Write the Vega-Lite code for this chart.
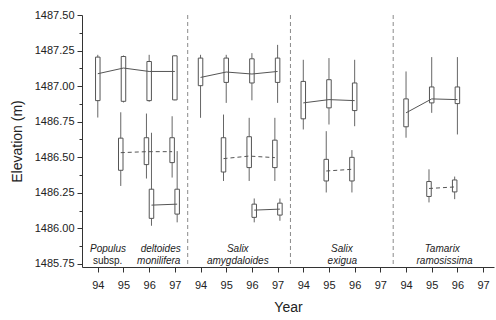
{
  "$schema": "https://vega.github.io/schema/vega-lite/v6.json",
  "width": 412,
  "height": 252,
  "autosize": {"type": "none"},
  "padding": {"left": 82, "top": 15, "right": 2, "bottom": 53},
  "background": "white",
  "config": {
    "view": {"stroke": null},
    "font": "Liberation Sans",
    "axis": {"grid": false, "domainColor": "#333", "tickColor": "#333", "labelColor": "#222", "titleColor": "#222", "labelFont": "Liberation Sans", "titleFont": "Liberation Sans", "titleFontWeight": "normal", "labelOverlap": false}
  },
  "resolve": {"axis": {"y": "independent"}},
  "datasets": {
    "boxes": [
      {"species": "Populus", "group": "upper", "year": 94, "x": 0, "lo": 1486.779, "q1": 1486.898, "med": 1487.087, "q3": 1487.204, "hi": 1487.22},
      {"species": "Populus", "group": "upper", "year": 95, "x": 1, "lo": 1486.885, "q1": 1486.893, "med": 1487.127, "q3": 1487.208, "hi": 1487.215},
      {"species": "Populus", "group": "upper", "year": 96, "x": 2, "lo": 1486.89, "q1": 1486.898, "med": 1487.103, "q3": 1487.173, "hi": 1487.22},
      {"species": "Populus", "group": "upper", "year": 97, "x": 3, "lo": 1486.9, "q1": 1486.903, "med": 1487.103, "q3": 1487.213, "hi": 1487.215},
      {"species": "Populus", "group": "middle", "year": 95, "x": 0.894, "lo": 1486.298, "q1": 1486.408, "med": 1486.532, "q3": 1486.634, "hi": 1486.816},
      {"species": "Populus", "group": "middle", "year": 96, "x": 1.894, "lo": 1486.35, "q1": 1486.448, "med": 1486.539, "q3": 1486.637, "hi": 1486.807},
      {"species": "Populus", "group": "middle", "year": 97, "x": 2.894, "lo": 1486.357, "q1": 1486.462, "med": 1486.539, "q3": 1486.637, "hi": 1486.788},
      {"species": "Populus", "group": "lower", "year": 96, "x": 2.09, "lo": 1486.018, "q1": 1486.07, "med": 1486.163, "q3": 1486.275, "hi": 1486.672},
      {"species": "Populus", "group": "lower", "year": 97, "x": 3.09, "lo": 1486.042, "q1": 1486.1, "med": 1486.17, "q3": 1486.275, "hi": 1486.543},
      {"species": "Salix amygdaloides", "group": "upper", "year": 94, "x": 4, "lo": 1486.777, "q1": 1487.003, "med": 1487.061, "q3": 1487.197, "hi": 1487.22},
      {"species": "Salix amygdaloides", "group": "upper", "year": 95, "x": 5, "lo": 1486.882, "q1": 1487.026, "med": 1487.099, "q3": 1487.197, "hi": 1487.22},
      {"species": "Salix amygdaloides", "group": "upper", "year": 96, "x": 6, "lo": 1486.9, "q1": 1487.022, "med": 1487.085, "q3": 1487.192, "hi": 1487.232},
      {"species": "Salix amygdaloides", "group": "upper", "year": 97, "x": 7, "lo": 1486.882, "q1": 1487.026, "med": 1487.103, "q3": 1487.197, "hi": 1487.29},
      {"species": "Salix amygdaloides", "group": "middle", "year": 95, "x": 4.894, "lo": 1486.333, "q1": 1486.396, "med": 1486.49, "q3": 1486.637, "hi": 1486.8},
      {"species": "Salix amygdaloides", "group": "middle", "year": 96, "x": 5.894, "lo": 1486.333, "q1": 1486.427, "med": 1486.508, "q3": 1486.644, "hi": 1486.777},
      {"species": "Salix amygdaloides", "group": "middle", "year": 97, "x": 6.894, "lo": 1486.333, "q1": 1486.427, "med": 1486.497, "q3": 1486.62, "hi": 1486.777},
      {"species": "Salix amygdaloides", "group": "lower", "year": 96, "x": 6.09, "lo": 1486.042, "q1": 1486.077, "med": 1486.128, "q3": 1486.17, "hi": 1486.21},
      {"species": "Salix amygdaloides", "group": "lower", "year": 97, "x": 7.09, "lo": 1486.053, "q1": 1486.093, "med": 1486.135, "q3": 1486.177, "hi": 1486.21},
      {"species": "Salix exigua", "group": "upper", "year": 94, "x": 8, "lo": 1486.695, "q1": 1486.77, "med": 1486.882, "q3": 1487.033, "hi": 1487.185},
      {"species": "Salix exigua", "group": "upper", "year": 95, "x": 9, "lo": 1486.73, "q1": 1486.847, "med": 1486.905, "q3": 1487.045, "hi": 1487.197},
      {"species": "Salix exigua", "group": "upper", "year": 96, "x": 10, "lo": 1486.718, "q1": 1486.828, "med": 1486.898, "q3": 1487.022, "hi": 1487.185},
      {"species": "Salix exigua", "group": "middle", "year": 95, "x": 8.894, "lo": 1486.252, "q1": 1486.333, "med": 1486.403, "q3": 1486.485, "hi": 1486.683},
      {"species": "Salix exigua", "group": "middle", "year": 96, "x": 9.894, "lo": 1486.252, "q1": 1486.333, "med": 1486.415, "q3": 1486.499, "hi": 1486.55},
      {"species": "Tamarix", "group": "upper", "year": 94, "x": 12, "lo": 1486.637, "q1": 1486.714, "med": 1486.812, "q3": 1486.91, "hi": 1487.103},
      {"species": "Tamarix", "group": "upper", "year": 95, "x": 13, "lo": 1486.812, "q1": 1486.882, "med": 1486.91, "q3": 1486.994, "hi": 1487.204},
      {"species": "Tamarix", "group": "upper", "year": 96, "x": 14, "lo": 1486.66, "q1": 1486.877, "med": 1486.905, "q3": 1486.994, "hi": 1487.204},
      {"species": "Tamarix", "group": "middle", "year": 95, "x": 12.894, "lo": 1486.182, "q1": 1486.224, "med": 1486.28, "q3": 1486.329, "hi": 1486.415},
      {"species": "Tamarix", "group": "middle", "year": 96, "x": 13.894, "lo": 1486.205, "q1": 1486.256, "med": 1486.291, "q3": 1486.34, "hi": 1486.364}
    ],
    "labels": [
      {"label": "Populus", "x": -0.304, "elev": 1485.852},
      {"label": "deltoides", "x": 3.228, "elev": 1485.852},
      {"label": "subsp.", "x": -0.19, "elev": 1485.771},
      {"label": "monilifera", "x": 3.217, "elev": 1485.771},
      {"label": "Salix", "x": 5.45, "elev": 1485.852},
      {"label": "amygdaloides", "x": 5.45, "elev": 1485.771},
      {"label": "Salix", "x": 9.5, "elev": 1485.852},
      {"label": "exigua", "x": 9.52, "elev": 1485.771},
      {"label": "Tamarix", "x": 13.41, "elev": 1485.852},
      {"label": "ramosissima", "x": 13.5, "elev": 1485.771}
    ],
    "seps": [{"boundary": 3.5}, {"boundary": 7.5}, {"boundary": 11.5}]
  },
  "layer": [
    {
      "data": {"name": "seps"},
      "mark": {"type": "rule", "color": "#8a8a8a", "strokeDash": [4, 3], "strokeWidth": 1},
      "encoding": {
        "x": {
          "field": "boundary", "type": "quantitative",
          "scale": {"domain": [-0.42, 15.23], "nice": false, "zero": false},
          "axis": {
            "values": [0, 1, 2, 3, 4, 5, 6, 7, 8, 9, 10, 11, 12, 13, 14, 15],
            "tickCount": 40,
            "labelExpr": "['94','95','96','97'][datum.value % 4]",
            "title": "Year", "titleFontSize": 14, "titlePadding": 10,
            "labelFontSize": 11, "tickSize": 5, "labelPadding": 7, "labelFlush": false
          }
        }
      }
    },
    {
      "data": {"name": "boxes"},
      "mark": {"type": "rule", "color": "#666", "strokeWidth": 1},
      "encoding": {
        "x": {"field": "x", "type": "quantitative"},
        "y": {
          "field": "lo", "type": "quantitative",
          "scale": {"domain": [1485.728, 1487.5], "nice": false, "zero": false},
          "axis": {
            "orient": "left",
            "values": [1485.75, 1486, 1486.25, 1486.5, 1486.75, 1487, 1487.25, 1487.5],
            "tickCount": 40,
            "format": ".2f", "title": "Elevation (m)", "titleFontSize": 14, "titlePadding": 10,
            "labelFontSize": 11, "tickSize": 5, "labelPadding": 3
          }
        },
        "y2": {"field": "hi"}
      }
    },
    {
      "data": {"name": "boxes"},
      "mark": {"type": "bar", "size": 4.5, "fill": "white", "stroke": "#555", "strokeWidth": 1},
      "encoding": {
        "x": {"field": "x", "type": "quantitative"},
        "y": {
          "field": "q1", "type": "quantitative",
          "axis": {
            "orient": "left",
            "values": [1485.875, 1486.125, 1486.375, 1486.625, 1486.875, 1487.125, 1487.375],
            "tickCount": 40, "labels": false, "domain": false, "title": null, "tickSize": 3
          }
        },
        "y2": {"field": "q3"}
      }
    },
    {
      "data": {"name": "boxes"},
      "transform": [{"filter": "datum.group != 'middle'"}],
      "mark": {"type": "line", "color": "#555", "strokeWidth": 1},
      "encoding": {
        "x": {"field": "x", "type": "quantitative"},
        "y": {"field": "med", "type": "quantitative", "axis": null},
        "detail": [{"field": "species"}, {"field": "group"}]
      }
    },
    {
      "data": {"name": "boxes"},
      "transform": [{"filter": "datum.group == 'middle'"}],
      "mark": {"type": "line", "color": "#555", "strokeWidth": 1, "strokeDash": [4, 3]},
      "encoding": {
        "x": {"field": "x", "type": "quantitative"},
        "y": {"field": "med", "type": "quantitative", "axis": null},
        "detail": [{"field": "species"}, {"field": "group"}]
      }
    },
    {
      "data": {"name": "labels"},
      "transform": [{"filter": {"field": "label", "oneOf": ["Populus"]}}],
      "mark": {"type": "text", "align": "left", "baseline": "middle", "fontSize": 10, "fontStyle": "italic", "color": "#222"},
      "encoding": {"x": {"field": "x", "type": "quantitative"}, "y": {"field": "elev", "type": "quantitative", "axis": null}, "text": {"field": "label"}}
    },
    {
      "data": {"name": "labels"},
      "transform": [{"filter": {"field": "label", "oneOf": ["subsp."]}}],
      "mark": {"type": "text", "align": "left", "baseline": "middle", "fontSize": 10, "color": "#222"},
      "encoding": {"x": {"field": "x", "type": "quantitative"}, "y": {"field": "elev", "type": "quantitative", "axis": null}, "text": {"field": "label"}}
    },
    {
      "data": {"name": "labels"},
      "transform": [{"filter": {"field": "label", "oneOf": ["deltoides", "monilifera"]}}],
      "mark": {"type": "text", "align": "right", "baseline": "middle", "fontSize": 10, "fontStyle": "italic", "color": "#222"},
      "encoding": {"x": {"field": "x", "type": "quantitative"}, "y": {"field": "elev", "type": "quantitative", "axis": null}, "text": {"field": "label"}}
    },
    {
      "data": {"name": "labels"},
      "transform": [{"filter": {"field": "label", "oneOf": ["Salix", "amygdaloides", "exigua", "Tamarix", "ramosissima"]}}],
      "mark": {"type": "text", "align": "center", "baseline": "middle", "fontSize": 10, "fontStyle": "italic", "color": "#222"},
      "encoding": {"x": {"field": "x", "type": "quantitative"}, "y": {"field": "elev", "type": "quantitative", "axis": null}, "text": {"field": "label"}}
    }
  ]
}
